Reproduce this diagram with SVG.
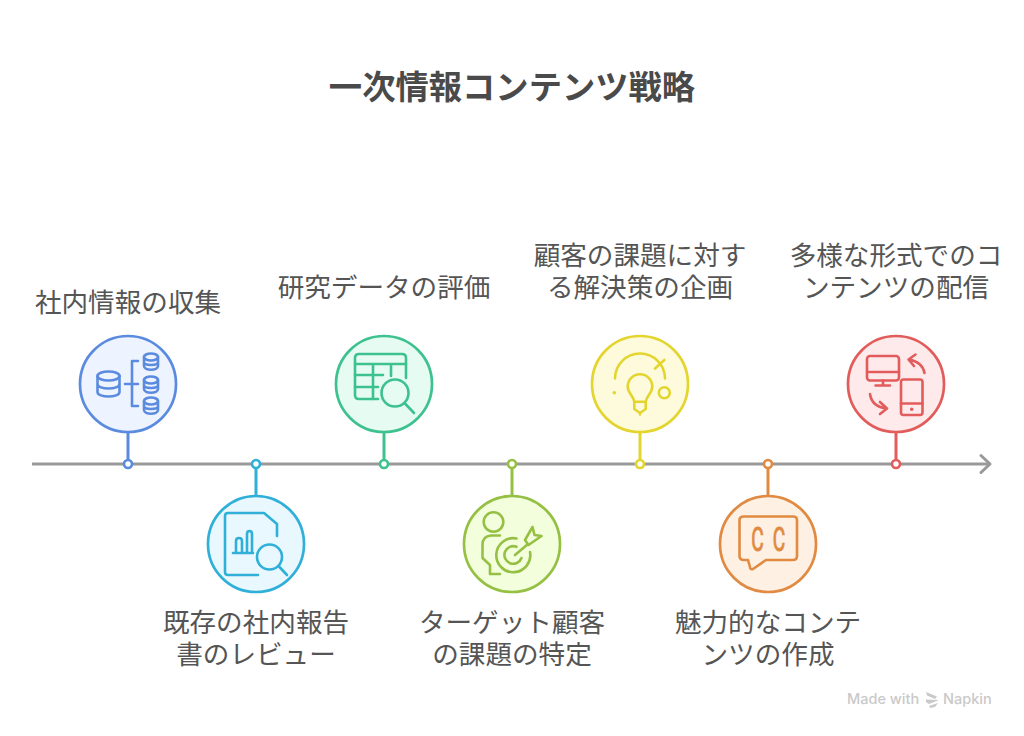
<svg xmlns="http://www.w3.org/2000/svg" width="1024" height="736" viewBox="0 0 1024 736">
<style>
text{font-family:"Noto Sans CJK JP","Noto Sans",sans-serif;fill:#555;text-anchor:middle}
.t{font-size:26.6px}
.title{font-size:33.3px;font-weight:700;fill:#4a4a4a}
.ic{fill:none;stroke-width:2.6;stroke-linecap:round;stroke-linejoin:round}
.ring{stroke-width:2.7}
.st{stroke-width:3;fill:none}
.dot{fill:#fff;stroke-width:2.7}
.cc{font-family:"Roboto",sans-serif;font-size:33px;fill:#e08a42;stroke:#e08a42;stroke-width:1}
.wm{font-family:"Inter","Liberation Sans",sans-serif;font-size:14.5px;fill:#c9c9c9;text-anchor:start;font-weight:500}
</style>
<rect width="1024" height="736" fill="#fff"/>
<text class="title" x="512" y="99">一次情報コンテンツ戦略</text>
<g id="connectors">
<path d="M32 464H988" fill="none" stroke="#999" stroke-width="3"/>
<path d="M981 455.500L990 464L981 472.500" fill="none" stroke="#999" stroke-width="3" stroke-linecap="round" stroke-linejoin="round"/>
<path class="st" stroke="#5b8bdf" d="M128 432V464"/>
<path class="st" stroke="#30b0d8" d="M256 464V496"/>
<path class="st" stroke="#3dc28f" d="M384 432V464"/>
<path class="st" stroke="#95c044" d="M512 464V496"/>
<path class="st" stroke="#e3d52e" d="M640 432V464"/>
<path class="st" stroke="#e08a42" d="M768 464V496"/>
<path class="st" stroke="#e25c5c" d="M896 432V464"/>
<circle class="dot" cx="128" cy="464" r="4" stroke="#5b8bdf"/>
<circle class="dot" cx="256" cy="464" r="4" stroke="#30b0d8"/>
<circle class="dot" cx="384" cy="464" r="4" stroke="#3dc28f"/>
<circle class="dot" cx="512" cy="464" r="4" stroke="#95c044"/>
<circle class="dot" cx="640" cy="464" r="4" stroke="#e3d52e"/>
<circle class="dot" cx="768" cy="464" r="4" stroke="#e08a42"/>
<circle class="dot" cx="896" cy="464" r="4" stroke="#e25c5c"/>
</g>
<g id="node1">
<circle class="ring" cx="128" cy="384" r="48" fill="#eef4ff" stroke="#5b8bdf"/>
<g class="ic" stroke="#5b8bdf">
<ellipse cx="108.500" cy="376" rx="11" ry="4.500"/>
<path d="M97.500 376V392C97.500 398 119.500 398 119.500 392V376M97.500 384C97.500 390 119.500 390 119.500 384"/>
<path d="M125 384H138M138 361H132V406H138"/>
<ellipse cx="151" cy="357" rx="7" ry="3.500"/>
<path d="M144 357V366C144 371 158 371 158 366V357M144 362C144 366 158 366 158 362"/>
<ellipse cx="151" cy="380" rx="7" ry="3.500"/>
<path d="M144 380V389C144 394 158 394 158 389V380M144 385C144 389 158 389 158 385"/>
<ellipse cx="151" cy="401" rx="7" ry="3.500"/>
<path d="M144 401V410C144 415 158 415 158 410V401M144 406C144 410 158 410 158 406"/>
</g>
<text class="t" x="128" y="312">社内情報の収集</text>
</g>
<g id="node2">
<circle class="ring" cx="256" cy="544" r="48" fill="#e9f8fe" stroke="#30b0d8"/>
<g class="ic" stroke="#30b0d8">
<path d="M277 536V524L264 513H228Q225 513 225 516V572Q225 575 228 575H258"/>
<path d="M233 553H253M236 553V541Q236 538 239 538Q242 538 242 541V553M247 553V534Q247 531 249.500 531Q252 531 252 534V553"/>
<circle cx="269.500" cy="557" r="12.500"/>
<path d="M278.500 566L287 575"/>
</g>
<text class="t" x="256" y="632">既存の社内報告</text>
<text class="t" x="256" y="664">書のレビュー</text>
</g>
<g id="node3">
<circle class="ring" cx="384" cy="384" r="48" fill="#e6fbf2" stroke="#3dc28f"/>
<g class="ic" stroke="#3dc28f">
<path d="M378 399H359Q355 399 355 395V358Q355 354 359 354H402Q406 354 406 358V378"/>
<path d="M355 364H406M355 375H383M355 387H378M373 364V399M391 364V376"/>
<circle cx="395" cy="393" r="13.500"/>
<path d="M404.500 403L414 413"/>
</g>
<text class="t" x="384" y="297">研究データの評価</text>
</g>
<g id="node4">
<circle class="ring" cx="512" cy="544" r="48" fill="#f3fedd" stroke="#95c044"/>
<g class="ic" stroke="#95c044">
<circle cx="493.500" cy="522" r="9.800"/>
<path d="M500 535.500H491Q482.500 536 482.500 545V558L490 565V574H500"/>
<path d="M516.500 538.500A17 17 0 1 0 530 552"/>
<path d="M516.500 546.800A8.800 8.800 0 1 0 521.500 558"/>
<path d="M515 555L528 544M525 540L532.500 527L534.500 535L541.500 536L528.500 545Z"/>
</g>
<text class="t" x="512" y="632">ターゲット顧客</text>
<text class="t" x="512" y="664">の課題の特定</text>
</g>
<g id="node5">
<circle class="ring" cx="640" cy="384" r="48" fill="#fefbdd" stroke="#e3d52e"/>
<g class="ic" stroke="#e3d52e">
<path d="M615 378.500A25 25 0 0 1 665 378.500"/>
<path d="M655 368.500L664.300 360"/>
<path d="M634.300 401.700C633 395 627.700 393 627.700 386.500A12.300 12.300 0 0 1 652.300 386.500C652.300 393 647 395 645.700 401.700Z"/>
<path d="M634.300 401.700V409L640 413L645.700 409V401.700M640 413V414.500"/>
<circle cx="664.300" cy="392.700" r="5.500"/>
</g>
<circle cx="614.300" cy="392.700" r="1.800" fill="#e3d52e"/>
<text class="t" x="640" y="265">顧客の課題に対す</text>
<text class="t" x="640" y="297">る解決策の企画</text>
</g>
<g id="node6">
<circle class="ring" cx="768" cy="544" r="48" fill="#fef0e3" stroke="#e08a42"/>
<g class="ic" stroke="#e08a42">
<path d="M744 516.500H793Q797 516.500 797 520V556Q797 560 793 560H766L753 569Q750 570 750 567L748 560H744Q739.500 560 739.500 556V520Q739.500 516.500 744 516.500Z"/>
</g>
<text class="cc" transform="translate(757.500 550.500) scale(.58 1)">C</text>
<text class="cc" transform="translate(779 550.500) scale(.58 1)">C</text>
<text class="t" x="768" y="632">魅力的なコンテ</text>
<text class="t" x="768" y="664">ンツの作成</text>
</g>
<g id="node7">
<circle class="ring" cx="896" cy="384" r="48" fill="#feeaea" stroke="#e25c5c"/>
<g class="ic" stroke="#e25c5c">
<rect x="867" y="356" width="32" height="24.500" rx="3"/>
<path d="M867 372H899M883 380.500V385M875.500 385.500H890"/>
<rect x="901" y="379.500" width="21.500" height="35.500" rx="2.500"/>
<path d="M901 403.500H922.500"/>
<path d="M924.500 373C923 365 917 361 909 359.500M915.500 354.500L908.500 359.500L914 366"/>
<path d="M870 394C871 402 877 407 886 408.500M880 402L887 408.500L880 414"/>
</g>
<circle cx="911.700" cy="409.300" r="1.700" fill="#e25c5c"/>
<text class="t" x="896" y="265">多様な形式でのコ</text>
<text class="t" x="896" y="297">ンテンツの配信</text>
</g>
<g id="watermark">
<text class="wm" x="847" y="704">Made with</text>
<path d="M926 692L937 696.500L935 699L927 695.500ZM926 699.500L939 700L929 704L926 702ZM929 706L938 703L935 707L930 708Z" fill="#c9c9c9"/>
<text class="wm" x="943" y="704">Napkin</text>
</g>
</svg>
